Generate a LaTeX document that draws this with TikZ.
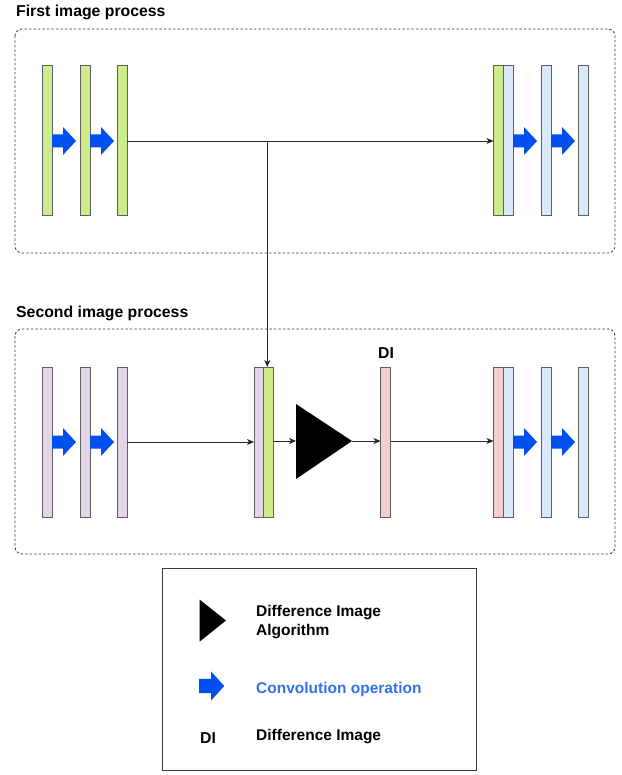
\documentclass[tikz,border=0pt]{standalone}
\usepackage{fontspec}
\setmainfont{Liberation Sans}
\usetikzlibrary{arrows.meta}
\definecolor{gfill}{HTML}{CDEB8B}
\definecolor{pfill}{HTML}{E1D5E7}
\definecolor{bfill}{HTML}{DAE8FC}
\definecolor{rfill}{HTML}{F8CECC}
\definecolor{barline}{HTML}{5F5F5F}
\definecolor{convblue}{HTML}{0050EF}
\definecolor{txtblue}{HTML}{3372E6}
\definecolor{boxline}{HTML}{3A3A3A}
\tikzset{
  bar/.style={draw=barline, line width=1pt, minimum width=10pt, minimum height=150pt, inner sep=0pt, outer sep=0pt},
  gbar/.style={bar, fill=gfill},
  pbar/.style={bar, fill=pfill},
  bbar/.style={bar, fill=bfill},
  rbar/.style={bar, fill=rfill},
  conn/.style={draw=black!85, line width=0.9pt, -{Stealth[length=7pt,width=6pt,inset=2pt]}},
  groupbox/.style={draw=boxline, line width=0.8pt, dash pattern=on 2.5pt off 2pt, rounded corners=7pt},
  title/.style={anchor=base west, inner sep=0pt, font=\fontsize{15.8}{18}\selectfont\bfseries},
  legtxt/.style={anchor=base west, inner sep=0pt, font=\fontsize{15.5}{18.3}\selectfont\bfseries, align=left},
  pics/conv/.style={code={\fill[convblue] (0,-6.5) -- (11,-6.5) -- (11,-14) -- (24,0) -- (11,14) -- (11,6.5) -- (0,6.5) -- cycle;}}
}
\begin{document}
\begin{tikzpicture}[x=1pt,y=-1pt]
\useasboundingbox (0,0) rectangle (621,775);
% group boxes
\draw[groupbox] (15,29) rectangle (615,253);
\draw[groupbox] (15,329) rectangle (615,554);
\node[title] (t1) at (16,17) {First image process};
\node[title] (t2) at (16,317) {Second image process};

% first row
\node[gbar] (a1) at (47,141) {};
\node[gbar] (a2) at (85,141) {};
\node[gbar] (a3) at (122,141) {};
\pic at (52,141) {conv};
\pic at (90,141) {conv};
\node[gbar] (ag) at (498.5,141) {};
\node[bbar] (ab1) at (508,141) {};
\node[bbar] (ab2) at (546,141) {};
\node[bbar] (ab3) at (583,141) {};
\pic at (513,141) {conv};
\pic at (551,141) {conv};

% second row
\node[pbar] (b1) at (47,442) {};
\node[pbar] (b2) at (85,442) {};
\node[pbar] (b3) at (122,442) {};
\pic at (52,442) {conv};
\pic at (90,442) {conv};
\node[pbar] (bp) at (259,442) {};
\node[gbar] (bg) at (268.5,442) {};
\fill (296,404) -- (352,441) -- (296,479) -- cycle;
\coordinate (triL) at (296,441);
\coordinate (triR) at (352,441);
\node[rbar] (di) at (385.5,442) {};
\node[anchor=base west, inner sep=0pt, font=\fontsize{15.8}{18}\selectfont\bfseries] (dilab) at (378,358) {DI};
\node[rbar] (br) at (498.5,442) {};
\node[bbar] (bb1) at (508,442) {};
\node[bbar] (bb2) at (546,442) {};
\node[bbar] (bb3) at (583,442) {};
\pic at (513,442) {conv};
\pic at (551,442) {conv};

% connectors
\draw[conn] (a3.east) -- (ag.west);
\coordinate (jt) at (267.3,141);
\coordinate (jb) at (267.3,367);
\draw[conn] (jt) -- (jb);
\draw[conn] (b3.east) -- (bp.west);
\draw[conn] (bg.east |- triL) -- (triL);
\draw[conn] (triR) -- (di.west |- triR);
\draw[conn] (di.east |- triR) -- (br.west |- triR);

% legend
\draw[draw=boxline, line width=1pt] (162.5,568.5) rectangle (476.5,770.5);
\fill (199.5,599.5) -- (226,620.5) -- (199.5,641.7) -- cycle;
\node[legtxt] (l1) at (256,616.7) {Difference Image};
\node[legtxt] (l1b) at (256,635) {Algorithm};
\begin{scope}[shift={(199,686)}, x=1.05pt, y=-1.04pt]
\fill[convblue] (0,-6.8) -- (11.5,-6.8) -- (11.5,-14) -- (24,0) -- (11.5,14) -- (11.5,6.8) -- (0,6.8) -- cycle;
\end{scope}
\node[legtxt, text=txtblue] (l2) at (256,693.3) {Convolution operation};
\node[legtxt, font=\fontsize{15.8}{18}\selectfont\bfseries] (l3d) at (200,743.3) {DI};
\node[legtxt] (l3) at (256,740) {Difference Image};
\end{tikzpicture}
\end{document}
